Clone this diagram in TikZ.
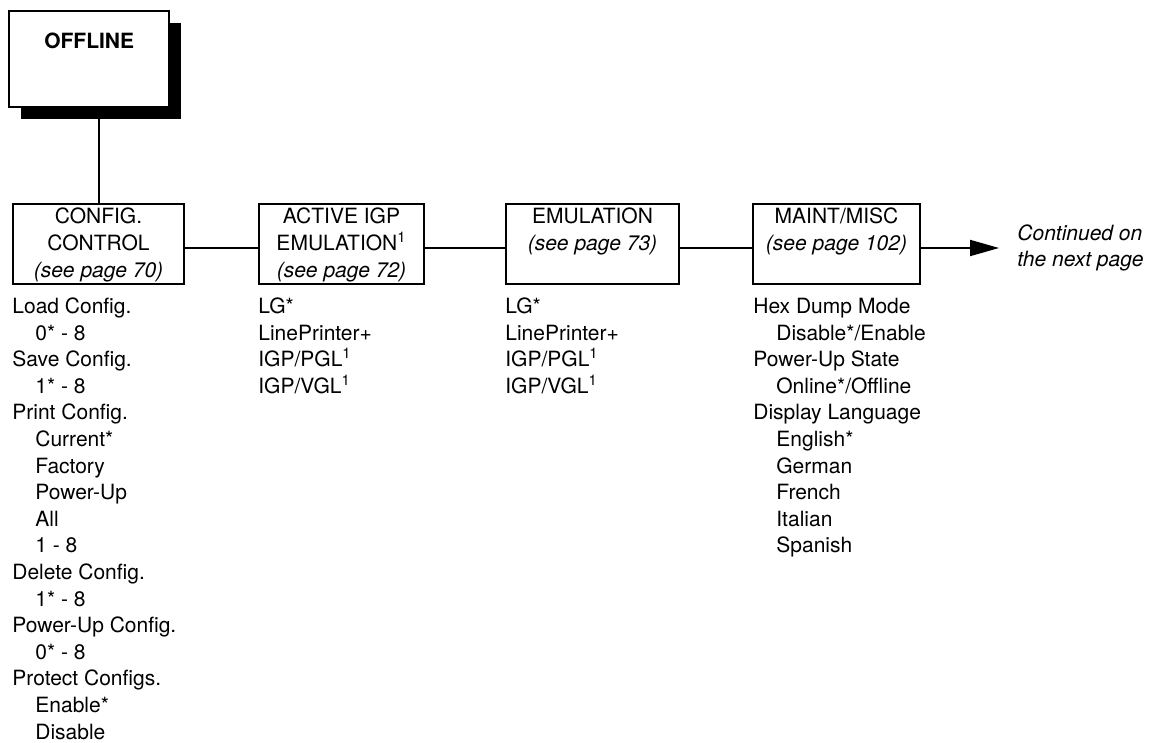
\documentclass[tikz,border=0pt]{standalone}
\usepackage{fontspec}
\setmainfont{TeX Gyre Heros}
\usepackage{tikz}
\usetikzlibrary{arrows.meta, positioning, shadows}

\newcommand{\ind}{\hspace*{11.5pt}}
\newcommand{\mlines}[1]{\begin{tabular}[t]{@{}c@{}}#1\end{tabular}}
\newcommand{\llines}[1]{\begin{tabular}[t]{@{}l@{}}#1\end{tabular}}

\begin{document}
\begin{tikzpicture}[x=0.5pt,y=-0.5pt,
    font=\fontsize{10.5}{13.3}\selectfont,
    menubox/.style={draw,line width=1pt,anchor=north west,inner sep=0pt,
      text height=9.75pt,text depth=30.25pt,
      font=\fontsize{10.5}{13.6}\selectfont},
    optlist/.style={anchor=base west,inner sep=0pt},
    link/.style={line width=1pt}]
  \useasboundingbox (0,0) rectangle (1150,743);

  % Top menu
  \node[draw,line width=1.2pt,fill=white,anchor=north west,inner sep=0pt,
        minimum width=80pt,text height=18.75pt,text depth=29.25pt,
        font=\fontsize{10.5}{13.3}\selectfont\bfseries,
        drop shadow={shadow xshift=6pt,shadow yshift=-6pt,fill=black,opacity=1}]
    (offline) at (8,10) {OFFLINE};

  % Sub menus
  \node[menubox,minimum width=85.5pt] (cfg) at (12,203)
    {\mlines{CONFIG.\\CONTROL\\\textit{(see page 70)}}};
  \node[menubox,minimum width=82.5pt] (act) at (258,203)
    {\mlines{ACTIVE IGP\\EMULATION\textsuperscript{1}\\\textit{(see page 72)}}};
  \node[menubox,minimum width=86.5pt] (emu) at (505,203)
    {\mlines{EMULATION\\\textit{(see page 73)}}};
  \node[menubox,minimum width=83.5pt] (mnt) at (752,203)
    {\mlines{MAINT/MISC\\\textit{(see page 102)}}};

  \draw[link] (cfg.north) -- (cfg.north |- offline.south);
  \foreach \a/\b in {cfg/act,act/emu,emu/mnt}
    \draw[link] ([yshift=-2pt]\a.east) -- ([yshift=-2pt]\b.west);

  % Continuation
  \coordinate (tip) at ([xshift=39pt,yshift=-2pt]mnt.east);
  \draw[link,-{Triangle[length=14.5pt,width=8pt]}] ([yshift=-2pt]mnt.east) -- (tip);
  \node[optlist,font=\fontsize{10.5}{13}\selectfont\itshape] (cont)
    at ([xshift=9pt,yshift=3.75pt]tip) {\llines{Continued on\\the next page}};

  % Option lists
  \node[optlist] (cfglist) at ([yshift=-14.25pt]cfg.south west)
    {\llines{Load Config.\\ \ind 0* - 8\\ Save Config.\\ \ind 1* - 8\\
     Print Config.\\ \ind Current*\\ \ind Factory\\ \ind Power-Up\\
     \ind All\\ \ind 1 - 8\\ Delete Config.\\ \ind 1* - 8\\
     Power-Up Config.\\ \ind 0* - 8\\ Protect Configs.\\
     \ind Enable*\\ \ind Disable}};
  \node[optlist] (actlist) at ([yshift=-14.25pt]act.south west)
    {\llines{LG*\\ LinePrinter+\\ IGP/PGL\textsuperscript{1}\\ IGP/VGL\textsuperscript{1}}};
  \node[optlist] (emulist) at ([yshift=-14.25pt]emu.south west)
    {\llines{LG*\\ LinePrinter+\\ IGP/PGL\textsuperscript{1}\\ IGP/VGL\textsuperscript{1}}};
  \node[optlist] (mntlist) at ([xshift=0.5pt,yshift=-14.25pt]mnt.south west)
    {\llines{Hex Dump Mode\\ \ind Disable*/Enable\\ Power-Up State\\
     \ind Online*/Offline\\ Display Language\\ \ind English*\\
     \ind German\\ \ind French\\ \ind Italian\\ \ind Spanish}};
\end{tikzpicture}
\end{document}
